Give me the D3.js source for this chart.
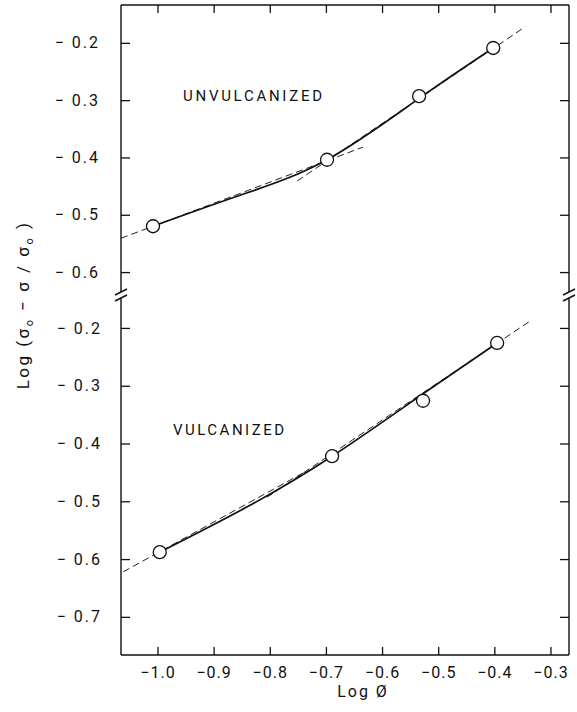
<!DOCTYPE html>
<meta charset="utf-8">
<style>
    body { margin: 0; background: #fff; }
    text { font-family: Roboto, sans-serif; fill: #111; }
    .axis path.domain { display: none; }
    .axis line { stroke: #111; stroke-width: 1.3px; }
    .axis text { font-family: Roboto, sans-serif; font-size: 16px; letter-spacing: 1px; fill: #111; }
    .yaxis text { letter-spacing: 2px; }
    .frame line { stroke: #111; stroke-width: 1.4px; }
    .fit { fill: none; stroke: #111; stroke-width: 1.7px; }
    .guide { fill: none; stroke: #222; stroke-width: 1px; stroke-dasharray: 7,4; }
    .pt { fill: #fff; stroke: #111; stroke-width: 1.3px; }
    .label { font-size: 15px; }
</style>
<body>
<svg></svg>
<script src="https://d3js.org/d3.v7.min.js"></script>
<script type='text/javascript'>

    // tick values
    var xTicks = [-1.0, -0.9, -0.8, -0.7, -0.6, -0.5, -0.4, -0.3];
    var yTicksUpper = [-0.2, -0.3, -0.4, -0.5, -0.6];
    var yTicksLower = [-0.2, -0.3, -0.4, -0.5, -0.6, -0.7];

    // unvulcanized (upper panel): measured points, drawn curve, dashed tangents
    var unvulcX = [-1.008, -0.698, -0.534, -0.402];
    var unvulcY = [-0.520, -0.404, -0.293, -0.209];
    var unvulcFitX = [-1.008, -0.853, -0.698, -0.534, -0.402];
    var unvulcFitY = [-0.520, -0.466, -0.404, -0.297, -0.209];
    var unvulcDashA = [[-1.065, -0.541], [-0.634, -0.382]];
    var unvulcDashB = [[-0.751, -0.441], [-0.345, -0.172]];

    // vulcanized (lower panel)
    var vulcX = [-0.996, -0.689, -0.527, -0.395];
    var vulcY = [-0.588, -0.422, -0.326, -0.226];
    var vulcFitX = [-0.996, -0.841, -0.689, -0.527, -0.395];
    var vulcFitY = [-0.588, -0.510, -0.422, -0.314, -0.226];
    var vulcDashA = [[-1.061, -0.622], [-0.737, -0.449]];
    var vulcDashB = [[-0.805, -0.493], [-0.333, -0.186]];

    var W = 577, H = 712;
    var xLeft = 121, xRight = 569, yTop = 5, yBottom = 655, yBreak = 295;

    var svg = d3.select('svg')
        .attr('width', W)
        .attr('height', H);

    var x = d3.scaleLinear().domain([-1.065, -0.267]).range([xLeft, xRight]);
    var yU = d3.scaleLinear().domain([-0.134, -0.64]).range([yTop, yBreak]);
    var yL = d3.scaleLinear().domain([-0.143, -0.766]).range([yBreak, yBottom]);

    var fmtY = function(d) { return '\u2212 ' + Math.abs(d).toFixed(1); };
    var fmtX = function(d) { return '\u2212' + Math.abs(d).toFixed(1); };

    // axes, ticks pointing inward
    svg.append('g').attr('class', 'axis yaxis')
        .attr('transform', 'translate(' + xLeft + ',0)')
        .call(d3.axisLeft(yU).tickValues(yTicksUpper).tickSizeInner(-9).tickSizeOuter(0).tickPadding(21).tickFormat(fmtY));
    svg.append('g').attr('class', 'axis yaxis')
        .attr('transform', 'translate(' + xLeft + ',0)')
        .call(d3.axisLeft(yL).tickValues(yTicksLower).tickSizeInner(-9).tickSizeOuter(0).tickPadding(19).tickFormat(fmtY));
    svg.append('g').attr('class', 'axis')
        .attr('transform', 'translate(' + xRight + ',0)')
        .call(d3.axisLeft(yU).tickValues(yTicksUpper).tickSizeInner(9).tickSizeOuter(0).tickFormat(''));
    svg.append('g').attr('class', 'axis')
        .attr('transform', 'translate(' + xRight + ',0)')
        .call(d3.axisLeft(yL).tickValues(yTicksLower).tickSizeInner(9).tickSizeOuter(0).tickFormat(''));
    svg.append('g').attr('class', 'axis')
        .attr('transform', 'translate(0,' + yBottom + ')')
        .call(d3.axisBottom(x).tickValues(xTicks).tickSizeInner(-8).tickSizeOuter(0).tickPadding(12).tickFormat(fmtX));
    svg.append('g').attr('class', 'axis')
        .attr('transform', 'translate(0,' + yTop + ')')
        .call(d3.axisTop(x).tickValues(xTicks).tickSizeInner(-8).tickSizeOuter(0).tickFormat(''));

    // frame with axis breaks
    var frame = svg.append('g').attr('class', 'frame');
    frame.append('line').attr('x1', xLeft).attr('x2', xRight).attr('y1', yTop).attr('y2', yTop);
    frame.append('line').attr('x1', xLeft).attr('x2', xRight).attr('y1', yBottom).attr('y2', yBottom);
    [xLeft, xRight].forEach(function(xx) {
        frame.append('line').attr('x1', xx).attr('x2', xx).attr('y1', yTop).attr('y2', yBreak - 3);
        frame.append('line').attr('x1', xx).attr('x2', xx).attr('y1', yBreak + 3).attr('y2', yBottom);
        [-3, 3].forEach(function(o) {
            frame.append('line')
                .attr('x1', xx - 6).attr('y1', yBreak + o + 3)
                .attr('x2', xx + 6).attr('y2', yBreak + o - 3);
        });
    });

    var plot = svg.append('g');

    var drawPanel = function(xs, ys, fitX, fitY, dashA, dashB, yScale) {
        var pts = xs.map(function(d, i) { return [d, ys[i]]; });
        var fit = fitX.map(function(d, i) { return [d, fitY[i]]; });
        var line = d3.line()
            .x(function(d) { return x(d[0]); })
            .y(function(d) { return yScale(d[1]); });

        plot.append('path').attr('class', 'guide').attr('d', line(dashA));
        plot.append('path').attr('class', 'guide').attr('d', line(dashB));
        plot.append('path').attr('class', 'fit')
            .attr('d', line.curve(d3.curveNatural)(fit));

        plot.append('g').selectAll('circle')
            .data(pts)
            .enter().append('circle')
            .attr('class', 'pt')
            .attr('cx', function(d) { return x(d[0]); })
            .attr('cy', function(d) { return yScale(d[1]); })
            .attr('r', 6.5);
    };

    drawPanel(unvulcX, unvulcY, unvulcFitX, unvulcFitY, unvulcDashA, unvulcDashB, yU);
    drawPanel(vulcX, vulcY, vulcFitX, vulcFitY, vulcDashA, vulcDashB, yL);

    // panel labels
    svg.append('text')
        .attr('class', 'label')
        .attr('x', 183).attr('y', 101)
        .attr('textLength', 139).attr('lengthAdjust', 'spacing')
        .text('UNVULCANIZED');
    svg.append('text')
        .attr('class', 'label')
        .attr('x', 173).attr('y', 435)
        .attr('textLength', 111).attr('lengthAdjust', 'spacing')
        .text('VULCANIZED');

    // axis titles
    svg.append('text')
        .attr('x', 363).attr('y', 697)
        .attr('text-anchor', 'middle')
        .style('font-size', '16px')
        .style('letter-spacing', '2px')
        .text('Log \u00d8');

    var yt = svg.append('text')
        .attr('transform', 'translate(29,305)rotate(-90)')
        .attr('text-anchor', 'middle')
        .style('font-size', '17px')
        .style('letter-spacing', '2.5px');
    yt.append('tspan').text('Log (\u03c3');
    yt.append('tspan').attr('dy', 4).style('font-size', '11px').text('o');
    yt.append('tspan').attr('dy', -4).text(' \u2212 \u03c3 / \u03c3');
    yt.append('tspan').attr('dy', 4).style('font-size', '11px').text('o');
    yt.append('tspan').attr('dy', -4).text(' )');

</script>
